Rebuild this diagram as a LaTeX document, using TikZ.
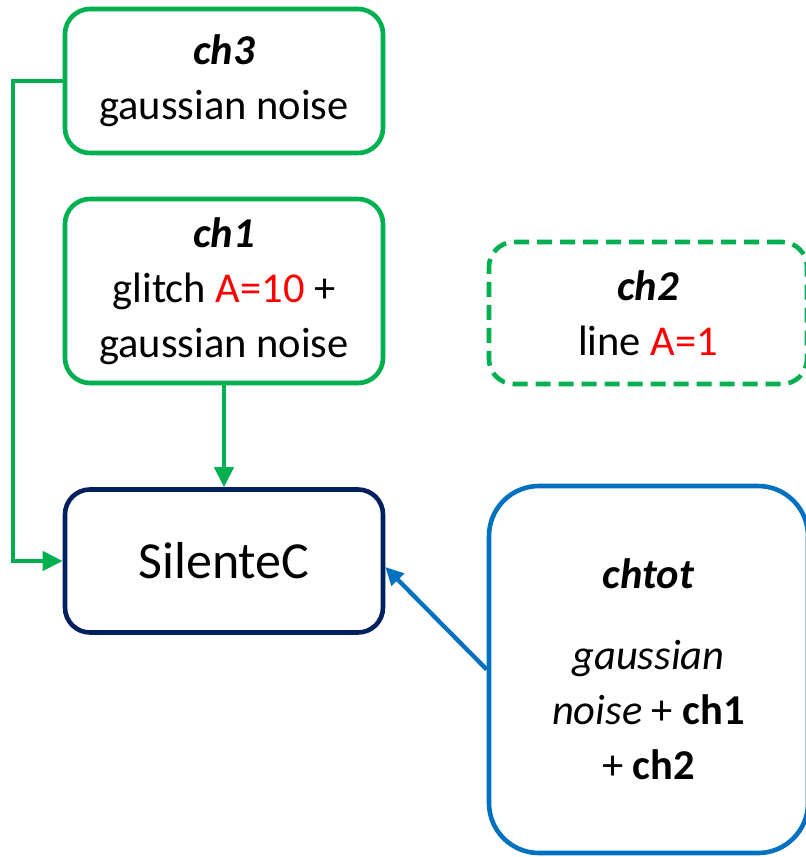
\documentclass[tikz,border=0pt]{standalone}
\usepackage{fontspec}
\setmainfont{Carlito}
\usetikzlibrary{arrows.meta}
\definecolor{chgreen}{HTML}{00B050}
\definecolor{chblue}{HTML}{0070C0}
\definecolor{chnavy}{HTML}{002060}
\definecolor{chred}{HTML}{FF0000}
\begin{document}
\begin{tikzpicture}[x=1pt, y=-1pt,
    box/.style={draw=chgreen, line width=4.6pt, rounded corners=25pt, align=center,
        inner sep=0pt, font=\fontsize{42.5}{55}\selectfont},
    link/.style={line width=4.3pt, -{Triangle[length=20pt, width=19pt]}}]
    \useasboundingbox (0,0) rectangle (806,857);
    \node[box, minimum width=318pt, minimum height=144pt] (ch3) at (224,81)
        {\textbf{\textit{ch3}}\\gaussian noise};
    \node[box, minimum width=318pt, minimum height=184pt] (ch1) at (224,291)
        {\textbf{\textit{ch1}}\\glitch \textcolor{chred}{A=10} +\\gaussian noise};
    \node[box, dashed, dash pattern=on 15pt off 8pt, minimum width=318pt, minimum height=142pt] (ch2) at (648,313)
        {\textbf{\textit{ch2}}\\line \textcolor{chred}{A=1}};
    \node[box, draw=chnavy, minimum width=318pt, minimum height=143pt,
        font=\fontsize{52}{60}\selectfont] (silentec) at (224,561) {SilenteC};
    \node[box, draw=chblue, rounded corners=50pt, minimum width=319pt, minimum height=367pt] (chtot) at (648.5,669.5)
        {\textbf{\textit{chtot}}\\[26pt]\textit{gaussian}\\\textit{noise} + \textbf{ch1}\\+ \textbf{ch2}};
    \coordinate (bend) at (13,81);
    \draw[link, chgreen] (ch3.west) -- (bend) |- (silentec.west);
    \draw[link, chgreen] (ch1.south) -- (silentec.north);
    \draw[link, chblue, -{Triangle[length=18pt, width=17pt]}] (chtot.west) -- ([yshift=-6pt]silentec.east);
\end{tikzpicture}
\end{document}
